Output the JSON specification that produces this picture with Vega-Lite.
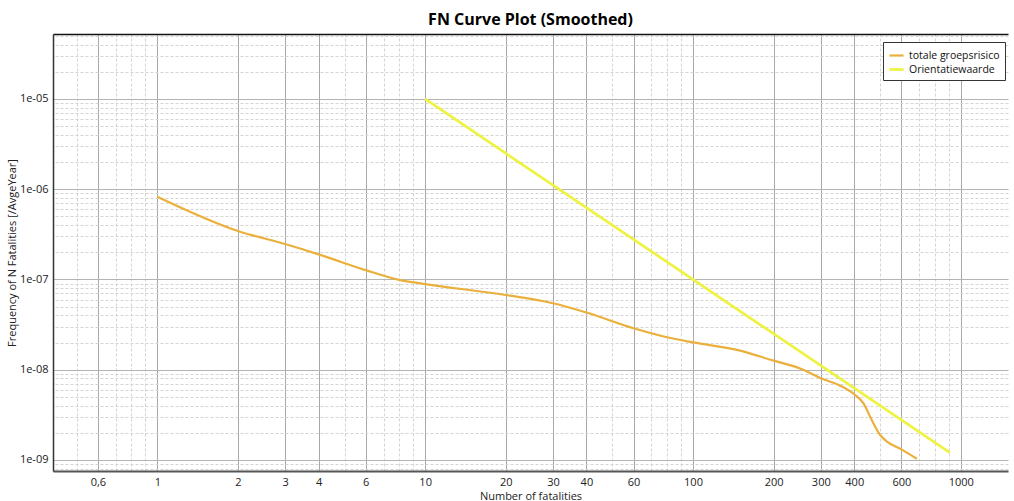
{
  "$schema": "https://vega.github.io/schema/vega-lite/v6.json",
  "width": 955,
  "height": 437,
  "autosize": {"type": "none"},
  "padding": {"left": 53, "top": 34, "right": 6, "bottom": 30},
  "title": {"text": "FN Curve Plot (Smoothed)", "font": "Open Sans", "fontSize": 16, "fontWeight": "bold", "color": "#000000", "anchor": "middle", "offset": 6},
  "config": {"view": {"stroke": null}, "font": "Open Sans"},
  "data": {"values": [
    {"series": "totale groepsrisico", "N": 1, "F": 8.27e-7},
    {"series": "totale groepsrisico", "N": 2, "F": 3.45e-7},
    {"series": "totale groepsrisico", "N": 3, "F": 2.47e-7},
    {"series": "totale groepsrisico", "N": 4, "F": 1.90e-7},
    {"series": "totale groepsrisico", "N": 6, "F": 1.27e-7},
    {"series": "totale groepsrisico", "N": 8, "F": 9.9e-8},
    {"series": "totale groepsrisico", "N": 10, "F": 8.9e-8},
    {"series": "totale groepsrisico", "N": 20, "F": 6.73e-8},
    {"series": "totale groepsrisico", "N": 30, "F": 5.45e-8},
    {"series": "totale groepsrisico", "N": 40, "F": 4.3e-8},
    {"series": "totale groepsrisico", "N": 60, "F": 2.88e-8},
    {"series": "totale groepsrisico", "N": 80, "F": 2.29e-8},
    {"series": "totale groepsrisico", "N": 100, "F": 2.01e-8},
    {"series": "totale groepsrisico", "N": 150, "F": 1.63e-8},
    {"series": "totale groepsrisico", "N": 200, "F": 1.26e-8},
    {"series": "totale groepsrisico", "N": 250, "F": 1.04e-8},
    {"series": "totale groepsrisico", "N": 300, "F": 8.04e-9},
    {"series": "totale groepsrisico", "N": 355, "F": 6.66e-9},
    {"series": "totale groepsrisico", "N": 400, "F": 5.35e-9},
    {"series": "totale groepsrisico", "N": 433, "F": 4.25e-9},
    {"series": "totale groepsrisico", "N": 465, "F": 2.77e-9},
    {"series": "totale groepsrisico", "N": 500, "F": 1.89e-9},
    {"series": "totale groepsrisico", "N": 530, "F": 1.6e-9},
    {"series": "totale groepsrisico", "N": 600, "F": 1.31e-9},
    {"series": "totale groepsrisico", "N": 685, "F": 1.03e-9},
    {"series": "Orientatiewaarde", "N": 10, "F": 1e-5},
    {"series": "Orientatiewaarde", "N": 910, "F": 1.21e-9}
  ]},
  "layer": [
    {
      "mark": {"type": "line", "interpolate": "monotone"},
      "encoding": {
        "x": {
          "field": "N", "type": "quantitative",
          "scale": {"type": "log", "domain": [0.408, 1500], "nice": false},
          "axis": {
            "orient": "bottom",
            "values": [0.6, 1, 2, 3, 4, 6, 10, 20, 30, 40, 60, 100, 200, 300, 400, 600, 1000],
            "labelExpr": "replace(toString(datum.value), '.', ',')",
            "title": "Number of fatalities",
            "titleFont": "Open Sans", "titleFontSize": 11, "titleFontWeight": "normal", "titleColor": "#222222", "titlePadding": 3,
            "labelFont": "Open Sans", "labelFontSize": 11, "labelColor": "#222222", "labelPadding": 5,
            "ticks": false,
            "domain": true, "domainColor": "#555555", "domainWidth": 2,
            "grid": true, "gridColor": "#A8A8A8", "gridWidth": 1
          }
        },
        "y": {
          "field": "F", "type": "quantitative",
          "scale": {"type": "log", "domain": [7.55e-10, 5.25e-5], "nice": false},
          "axis": {
            "orient": "left",
            "values": [1e-9, 1e-8, 1e-7, 1e-6, 1e-5],
            "labelExpr": "'1e-0' + round(-log(datum.value) / LN10)",
            "title": "Frequency of N Fatalities [/AvgeYear]",
            "titleFont": "Open Sans", "titleFontSize": 11, "titleFontWeight": "normal", "titleColor": "#222222", "titlePadding": 2,
            "labelFont": "Open Sans", "labelFontSize": 11, "labelColor": "#222222", "labelPadding": 5,
            "ticks": false,
            "domain": true, "domainColor": "#333333", "domainWidth": 1.5,
            "grid": true, "gridColor": "#B4B4B4", "gridWidth": 1.2
          }
        },
        "color": {
          "field": "series", "type": "nominal",
          "scale": {"domain": ["totale groepsrisico", "Orientatiewaarde"], "range": ["#EBB03B", "#EEF240"]},
          "legend": {
            "title": null, "orient": "none", "legendX": 830, "legendY": 8,
            "padding": 5, "strokeColor": "#333333", "fillColor": "#FFFFFF",
            "symbolType": "stroke", "symbolStrokeWidth": 2, "symbolSize": 200,
            "labelFont": "Open Sans", "labelFontSize": 10.5, "labelColor": "#111111", "labelOffset": 4, "rowPadding": 0
          }
        },
        "strokeWidth": {
          "field": "series", "type": "nominal",
          "scale": {"domain": ["totale groepsrisico", "Orientatiewaarde"], "range": [2.2, 2.7]},
          "legend": null
        }
      }
    },
    {
      "mark": {"type": "point", "opacity": 0},
      "encoding": {
        "x": {
          "field": "N", "type": "quantitative",
          "scale": {"type": "log", "domain": [0.408, 1500], "nice": false},
          "axis": {
            "orient": "top",
            "values": [0.5, 0.7, 0.8, 0.9, 5, 7, 8, 9, 50, 70, 80, 90, 500, 700, 800, 900],
            "labels": false, "ticks": false, "title": null,
            "domain": true, "domainColor": "#111111", "domainWidth": 1.5,
            "grid": true, "gridColor": "#D4D4D4", "gridWidth": 1, "gridDash": [3, 2]
          }
        },
        "y": {
          "field": "F", "type": "quantitative",
          "scale": {"type": "log", "domain": [7.55e-10, 5.25e-5], "nice": false},
          "axis": {
            "orient": "right",
            "values": [8e-10, 9e-10, 2e-9, 3e-9, 4e-9, 5e-9, 6e-9, 7e-9, 8e-9, 9e-9, 2e-8, 3e-8, 4e-8, 5e-8, 6e-8, 7e-8, 8e-8, 9e-8, 2e-7, 3e-7, 4e-7, 5e-7, 6e-7, 7e-7, 8e-7, 9e-7, 2e-6, 3e-6, 4e-6, 5e-6, 6e-6, 7e-6, 8e-6, 9e-6, 2e-5, 3e-5, 4e-5, 5e-5],
            "labels": false, "ticks": false, "title": null, "domain": false,
            "grid": true, "gridColor": "#D4D4D4", "gridWidth": 1, "gridDash": [3, 2]
          }
        }
      }
    }
  ],
  "resolve": {"axis": {"x": "independent", "y": "independent"}}
}
